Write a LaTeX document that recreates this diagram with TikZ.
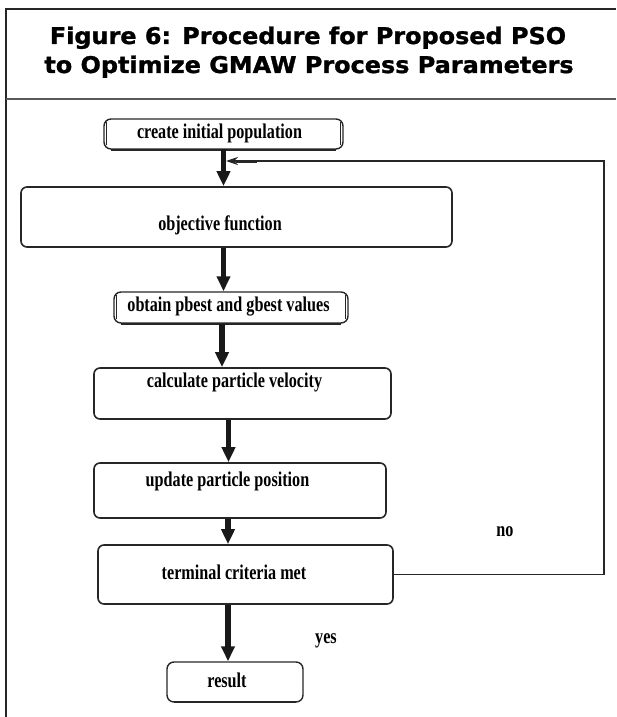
\documentclass[tikz,border=0pt]{standalone}
\usepackage{fontspec}
\setmainfont{Liberation Serif}
\newfontfamily\titlefont[FakeBold=1.2]{DejaVu Sans Bold}
\usetikzlibrary{arrows.meta}
\newcommand\cnd[1]{\scalebox{0.77}[1]{#1}}
\newcommand\ttlw[1]{\scalebox{1.04}[1]{#1}}
\tikzset{
  frameline/.style={line width=1.2pt, black!85},
  titletext/.style={font=\titlefont\fontsize{23}{26}\selectfont, anchor=base, inner sep=0pt},
  lbl/.style={font=\bfseries\fontsize{21}{23}\selectfont, inner sep=0pt},
  flowbox/.style={draw=black!85, line width=1.6pt, rounded corners=6pt, inner sep=0pt},
  termbox/.style={draw=black!85, line width=1.4pt, rounded corners=7pt, inner sep=0pt},
  bigarrow/.style={line width=5.5pt, black!90, -{Triangle[length=15pt,width=13pt]}},
  fbline/.style={line width=1.3pt, black!85},
}
\begin{document}
\begin{tikzpicture}[x=1pt,y=-1pt]
\useasboundingbox (0,0) rectangle (616,717);
% frame
\draw[frameline] (6,717) -- (6,9) -- (616,9);
\draw[frameline, black!65] (6,99) -- (616,99);
% title
\node[titletext] (t1) at (308,44) {\ttlw{Figure 6: Procedure for Proposed PSO}};
\node[titletext] (t2) at (309,73) {\ttlw{to Optimize GMAW Process Parameters}};
% boxes
\node[termbox, minimum width=239pt, minimum height=30pt] (create) at (223.5,134) {};
\draw[line width=1.4pt, black!85] ([xshift=3pt,yshift=-4pt]create.north west) -- ([xshift=3pt,yshift=5pt]create.south west);
\draw[line width=1.4pt, black!85] ([xshift=-3pt,yshift=-4pt]create.north east) -- ([xshift=-3pt,yshift=5pt]create.south east);
\draw[line width=2.2pt, black!85] ([xshift=8pt]create.south west) -- ([xshift=-8pt]create.south east);
\node[flowbox, minimum width=431pt, minimum height=60pt] (obj) at (236.5,217) {};
\node[termbox, minimum width=234pt, minimum height=31pt] (obt) at (231,307.5) {};
\draw[line width=1.4pt, black!85] ([xshift=3pt,yshift=-4pt]obt.north west) -- ([xshift=3pt,yshift=5pt]obt.south west);
\draw[line width=1.4pt, black!85] ([xshift=-3pt,yshift=-4pt]obt.north east) -- ([xshift=-3pt,yshift=5pt]obt.south east);
\draw[line width=2.2pt, black!85] ([xshift=8pt]obt.south west) -- ([xshift=-8pt]obt.south east);
\node[flowbox, minimum width=297pt, minimum height=51pt] (calc) at (242.5,393.5) {};
\node[flowbox, minimum width=292pt, minimum height=55pt] (upd) at (240,490.5) {};
\node[flowbox, minimum width=295pt, minimum height=59pt] (term) at (245.5,574.5) {};
\node[termbox, minimum width=136pt, minimum height=40pt] (res) at (235,682) {};
\draw[line width=2.4pt, black!85] ([xshift=8pt,yshift=1pt]res.south west) -- ([xshift=-8pt,yshift=1pt]res.south east);
% texts
\node[lbl] (createT) at (219.5,133.5) {\cnd{create initial population}};
\node[lbl] (objT) at (220,225) {\cnd{objective function}};
\node[lbl] (obtT) at (228.5,307) {\cnd{obtain pbest and gbest values}};
\node[lbl] (calcT) at (234.5,382) {\cnd{calculate particle velocity}};
\node[lbl] (updT) at (227.5,481) {\cnd{update particle position}};
\node[lbl] (termT) at (234,572) {\cnd{terminal criteria met}};
\node[lbl] (resT) at (227,680) {\cnd{result}};
\node[lbl] (no) at (505,532) {\cnd{no}};
\node[lbl] (yes) at (326,641) {\cnd{yes}};
% arrows
\draw[bigarrow] ([yshift=1pt]create.south -| create.south) -- (obj.north -| create.south);
\draw[bigarrow] (obj.south -| create.south) -- (obt.north -| create.south);
\draw[bigarrow] ([xshift=-9pt]obt.south) -- ([xshift=-9pt]obt.south |- calc.north);
\draw[bigarrow] ([xshift=-14pt]calc.south) -- ([xshift=-14pt]calc.south |- upd.north);
\draw[bigarrow] ([xshift=-12pt]upd.south) -- ([xshift=-12pt]upd.south |- term.north);
\draw[bigarrow] ([xshift=-17.5pt]term.south) -- ([xshift=-17.5pt]term.south |- res.north);
% feedback
\coordinate (rc) at (604,161);
\coordinate (fb) at (226,161);
\draw[fbline, -{Stealth[length=12pt,width=8pt]}] (term.east) -| (rc) -- (fb);
\draw[line width=3pt, black!85] ([xshift=10pt]fb) -- ([xshift=31pt]fb);
\end{tikzpicture}
\end{document}
